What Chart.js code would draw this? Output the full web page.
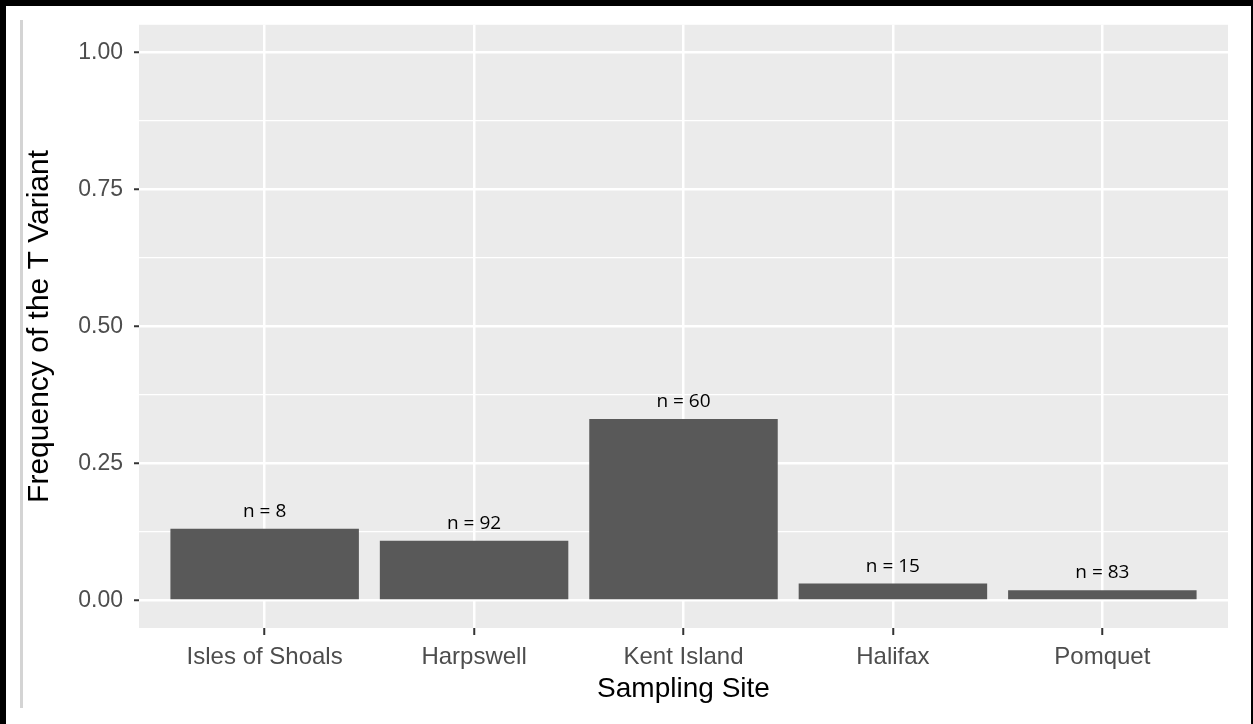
<!DOCTYPE html>
<html>
<head>
<meta charset="utf-8">
<script src="https://cdn.jsdelivr.net/npm/chart.js@4"></script>
<style>
  html, body { margin: 0; padding: 0; background: #fff; }
  #wrap { position: relative; width: 1253px; height: 724px; }
  #frame {
    position: absolute; left: 0; top: 0; width: 1253px; height: 724px;
    box-sizing: border-box; border-left: 6px solid #000; border-top: 6px solid #000;
    border-right: 2px solid #000; pointer-events: none;
  }
  #sideLine { position: absolute; left: 20px; top: 20px; width: 3px; height: 688px; background: #d4d4d4; }
</style>
</head>
<body>
<div id="wrap">
  <canvas id="myChart" width="1253" height="724"></canvas>
  <div id="sideLine"></div>
  <div id="frame"></div>
</div>
<script>
// data
const sites = ['Isles of Shoals', 'Harpswell', 'Kent Island', 'Halifax', 'Pomquet'];
const frequencies = [0.131, 0.109, 0.331, 0.031, 0.019];
const sampleSizes = [8, 92, 60, 15, 83];
const yTicks = [0, 0.125, 0.25, 0.375, 0.5, 0.625, 0.75, 0.875, 1];
const yLabels = ['0.00', '0.25', '0.50', '0.75', '1.00'];

const isMajor = v => Math.abs(v * 4 - Math.round(v * 4)) < 1e-6;

// grey ggplot panel behind the plot area
const panelBg = {
    id: 'panelBg',
    beforeDraw(chart) {
        const { ctx, chartArea: a } = chart;
        ctx.save();
        ctx.fillStyle = '#ebebeb';
        ctx.fillRect(a.left, a.top, a.right - a.left, a.bottom - a.top);
        ctx.restore();
    }
};

// "n = .." labels above the bars
const countLabels = {
    id: 'countLabels',
    afterDatasetsDraw(chart) {
        const ctx = chart.ctx;
        const meta = chart.getDatasetMeta(0);
        ctx.save();
        ctx.font = '19px "Open Sans"';
        ctx.fillStyle = '#000';
        ctx.textAlign = 'center';
        ctx.textBaseline = 'alphabetic';
        meta.data.forEach((bar, i) => {
            ctx.fillText('n = ' + sampleSizes[i], bar.x, bar.y - 12);
        });
        ctx.restore();
    }
};

const ctx = document.getElementById('myChart').getContext('2d');
const myChart = new Chart(ctx, {
    type: 'bar',
    data: {
        datasets: [{
            data: frequencies.map((f, i) => ({ x: i + 1, y: f })),
            backgroundColor: '#595959',
            borderWidth: 0,
            barPercentage: 0.9,
            categoryPercentage: 1.0
        }]
    },
    options: {
        responsive: false,
        animation: false,
        events: [],
        layout: { padding: { top: 24, right: 25, left: 0, bottom: 0 } },
        plugins: { legend: { display: false }, tooltip: { enabled: false } },
        scales: {
            x: {
                type: 'linear',
                min: 0.4,
                max: 5.6,
                offset: false,
                afterBuildTicks: scale => { scale.ticks = sites.map((s, i) => ({ value: i + 1 })); },
                afterFit: scale => { scale.height = 96; },
                border: { display: false },
                grid: {
                    offset: false,
                    color: '#ffffff',
                    lineWidth: 2.5,
                    tickColor: '#333333',
                    tickLength: 7,
                    tickWidth: 2
                },
                ticks: {
                    autoSkip: false,
                    maxRotation: 0,
                    padding: 8,
                    color: '#4d4d4d',
                    font: { family: '"Liberation Sans", Arial', size: 24 },
                    callback: v => sites[Math.round(v) - 1]
                },
                title: {
                    display: true,
                    text: 'Sampling Site',
                    color: '#000',
                    font: { family: '"Liberation Sans", Arial', size: 28 },
                    padding: { top: 0, bottom: 18 }
                }
            },
            y: {
                min: -0.05,
                max: 1.05,
                afterBuildTicks: scale => { scale.ticks = yTicks.map(v => ({ value: v })); },
                afterFit: scale => { scale.width = 139; },
                border: { display: false },
                grid: {
                    color: '#ffffff',
                    lineWidth: c => isMajor(c.tick.value) ? 2.5 : 1.3,
                    tickColor: c => isMajor(c.tick.value) ? '#333333' : 'rgba(0,0,0,0)',
                    tickLength: 5,
                    tickWidth: 2
                },
                ticks: {
                    autoSkip: false,
                    padding: 11,
                    color: '#4d4d4d',
                    font: { family: '"Liberation Sans", Arial', size: 23 },
                    callback: v => isMajor(v) ? yLabels[Math.round(v * 4)] : ''
                },
                title: {
                    display: true,
                    text: 'Frequency of the T Variant',
                    color: '#000',
                    font: { family: '"Liberation Sans", Arial', size: 30 },
                    padding: { top: 22, bottom: 0 }
                }
            }
        }
    },
    plugins: [panelBg, countLabels]
});
</script>
</body>
</html>
